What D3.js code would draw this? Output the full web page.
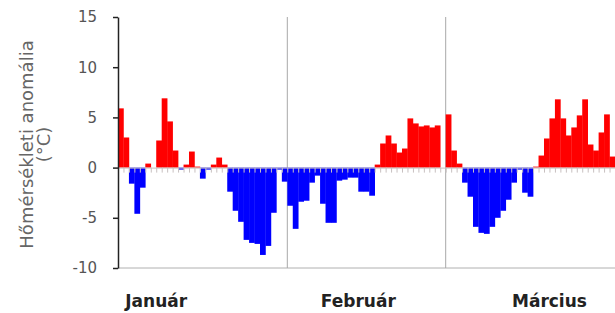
<!DOCTYPE html>
<html>
<head>
<meta charset="utf-8">
<script src="https://cdn.jsdelivr.net/npm/d3@7"></script>
<style>
  body { margin: 0; background: #fff; }
  svg { display: block; font-family: "DejaVu Sans", Verdana, sans-serif; }
</style>
</head>
<body>
<div id="chart"></div>
<script>
// daily temperature anomaly (°C), leap year: Jan 31, Feb 29, Mar 31 days
const months = ["Január", "Február", "Március"];
const janAnom = [5.9, 3.0, -1.6, -4.6, -2.0, 0.4, 0.0, 2.7, 6.9, 4.6,
                 1.7, -0.2, 0.3, 1.6, 0.1, -1.1, -0.2, 0.3, 1.0, 0.3,
                 -2.4, -4.3, -5.4, -7.2, -7.5, -7.6, -8.7, -7.8, -4.5, -0.2, -1.4];
const febAnom = [-3.8, -6.1, -3.4, -3.3, -1.5, -0.8, -3.6, -5.5, -5.5, -1.3,
                 -1.2, -1.0, -1.0, -2.4, -2.4, -2.8, 0.3, 2.4, 3.2, 2.4,
                 1.5, 1.9, 4.9, 4.4, 4.1, 4.2, 4.0, 4.2, 0.0];
const marAnom = [5.3, 1.7, 0.4, -1.5, -2.9, -5.9, -6.5, -6.6, -5.9, -5.0,
                 -4.3, -3.2, -1.5, -0.2, -2.5, -2.9, 0.1, 1.2, 2.9, 4.9,
                 6.8, 4.9, 3.2, 4.0, 5.2, 6.8, 2.3, 1.7, 3.5, 5.3, 1.1];
const yTicks = [-10, -5, 0, 5, 10, 15];
const yTitle = ["Hőmérsékleti anomália", "(°C)"];

const monthData = [janAnom, febAnom, marAnom];
const days = monthData.flat();

const width = 615,
      height = 313,
      margin = ({ top: 17, right: 0, bottom: 45, left: 118 });

let svg = d3.select("#chart")
    .append("svg")
    .attr("width", width)
    .attr("height", height);

let x = d3.scaleBand()
    .domain(d3.range(days.length))
    .range([margin.left, width - margin.right])
    .padding(0);

// same range, but for the edges between days
let xEdge = d3.scaleLinear()
    .domain([0, days.length])
    .range([margin.left, width - margin.right]);

let y = d3.scaleLinear()
    .domain([d3.min(yTicks), d3.max(yTicks)])
    .range([height - margin.bottom, margin.top]);

// month starts
let starts = [0];
monthData.forEach(m => starts.push(starts[starts.length - 1] + m.length));

// bottom border
svg.append("line")
    .attr("x1", margin.left).attr("x2", width - margin.right)
    .attr("y1", y(d3.min(yTicks))).attr("y2", y(d3.min(yTicks)))
    .attr("stroke", "#b0b0b0");

// month separators
svg.selectAll(".sep")
    .data(starts.slice(1, -1))
    .join("line")
    .attr("class", "sep")
    .attr("x1", d => xEdge(d)).attr("x2", d => xEdge(d))
    .attr("y1", y(d3.max(yTicks))).attr("y2", y(d3.min(yTicks)))
    .attr("stroke", "#a8a8a8");

// bars
svg.selectAll(".bar")
    .data(days)
    .join("rect")
    .attr("class", "bar")
    .attr("x", (d, i) => x(i))
    .attr("width", x.bandwidth() + 0.3)
    .attr("y", d => y(Math.max(0, d)))
    .attr("height", d => Math.abs(y(d) - y(0)))
    .attr("fill", d => d >= 0 ? "#ff0000" : "#0000ff");

// zero axis with a tick between every day
let zero = svg.append("g")
    .attr("transform", `translate(0,${y(0)})`)
    .call(d3.axisBottom(xEdge)
        .tickValues(d3.range(days.length + 1))
        .tickSize(5)
        .tickFormat(""));
zero.selectAll("line, path").attr("stroke", "#c8c0c0");

// y axis
let yAxis = svg.append("g")
    .attr("transform", `translate(${margin.left},0)`)
    .call(d3.axisLeft(y)
        .tickValues(yTicks)
        .tickSize(5)
        .tickPadding(16)
        .tickSizeOuter(0)
        .tickFormat(d => String(d)));
yAxis.selectAll("path, line").attr("stroke", "#222").attr("stroke-width", 1.5);
yAxis.selectAll("text")
    .attr("font-size", 15)
    .attr("font-family", "DejaVu Sans")
    .attr("fill", "#555");

// y title
let title = svg.append("text")
    .attr("transform", `translate(33,${(margin.top + height - margin.bottom) / 2 + 2}) rotate(-90)`)
    .attr("text-anchor", "middle")
    .attr("font-size", 18)
    .attr("fill", "#666");
title.selectAll("tspan")
    .data(yTitle)
    .join("tspan")
    .attr("x", 0)
    .attr("dy", (d, i) => i === 0 ? 0 : 17)
    .text(d => d);

// month labels
const labelDay = [7, 44, 79];
svg.selectAll(".month")
    .data(months)
    .join("text")
    .attr("class", "month")
    .attr("x", (d, i) => xEdge(labelDay[i]))
    .attr("y", 307)
    .attr("text-anchor", "middle")
    .attr("font-size", 17)
    .attr("font-weight", "bold")
    .attr("fill", "#222")
    .text(d => d);
</script>
</body>
</html>
